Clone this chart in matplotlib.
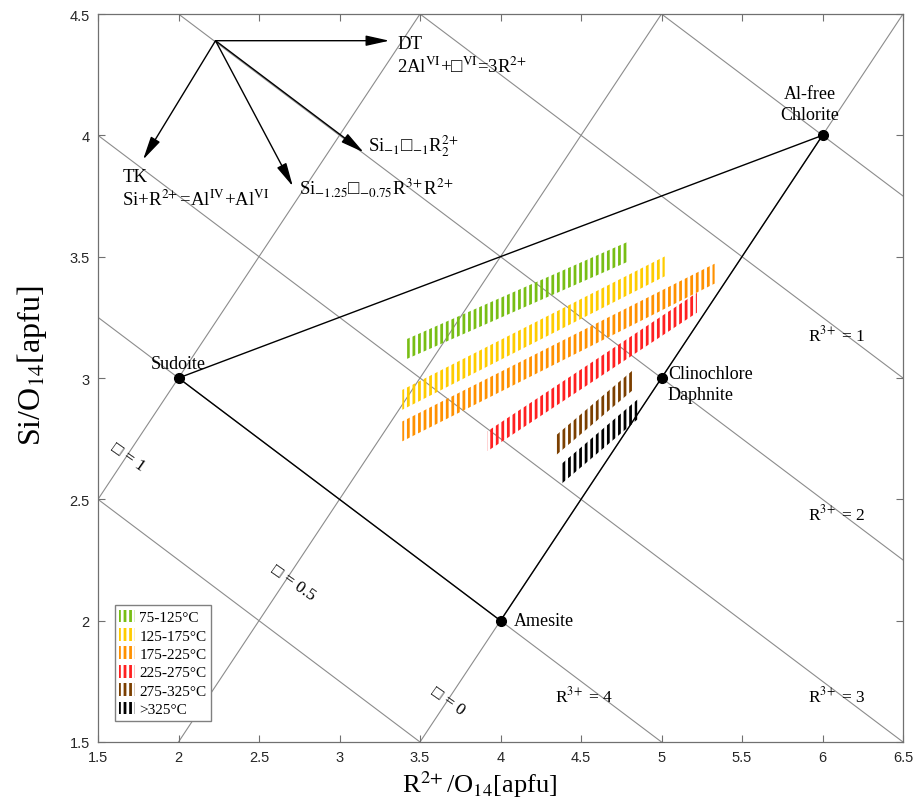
import matplotlib
matplotlib.use("Agg")
import matplotlib.pyplot as plt
from matplotlib.patches import Polygon, Patch

plt.rcParams['font.family'] = ['Liberation Serif', 'DejaVu Serif']
plt.rcParams['mathtext.fontset'] = 'stix'
plt.rcParams['hatch.linewidth'] = 2.0

# end-member compositions
minerals = ['Sudoite', 'Amesite', 'Clinochlore\nDaphnite', 'Al-free\nChlorite']
mineral_x = [2, 4, 5, 6]
mineral_y = [3, 2, 3, 4]
edges = [(0, 3), (0, 1), (1, 3)]

# isolines: vacancy (y = x - 2 + 3v) and R3+ (y = 7 - 0.5x - 0.75r)
vacancy_levels = [0, 0.5, 1]
r3_levels = [0, 1, 2, 3, 4, 5]

# temperature bands
temp_labels = ['75-125°C', '125-175°C', '175-225°C', '225-275°C', '275-325°C', '>325°C']
band_colors = ['#78be14', '#ffcc00', '#ff9100', '#ff2020', '#7b3f00', '#000000']
band_x0 = [3.42, 3.39, 3.39, 3.92, 4.34, 4.37]
band_y0 = [3.12, 2.91, 2.78, 2.74, 2.72, 2.60]
band_x1 = [4.79, 5.02, 5.33, 5.22, 4.82, 4.85]
band_y1 = [3.52, 3.46, 3.43, 3.31, 2.99, 2.87]
band_h = 0.082

# substitution vectors
arrow_origin = (2.23, 4.39)
arrow_end_x = [3.31, 1.78, 2.71, 3.15]
arrow_end_y = [4.39, 3.90, 3.79, 3.93]

ticks = [1.5, 2, 2.5, 3, 3.5, 4, 4.5, 5, 5.5, 6, 6.5]
tick_labels = ['1.5', '2', '2.5', '3', '3.5', '4', '4.5', '5', '5.5', '6', '6.5']
yticks = [1.5, 2, 2.5, 3, 3.5, 4, 4.5]
ytick_labels = ['1.5', '2', '2.5', '3', '3.5', '4', '4.5']

SQ = '\u25a1'
P2 = r'$^{2\!+}$'
P3 = r'$^{3\!+}$'

fig = plt.figure(figsize=(9.14, 8.03), dpi=100)
ax = fig.add_axes([98/914, 1 - 743/803, 805/914, 728/803])
ax.set_xlim(1.5, 6.5)
ax.set_ylim(1.5, 4.5)

grey = '#8c8c8c'
for v in vacancy_levels:
    ax.axline((0, -2 + 3*v), slope=1, color=grey, lw=0.8, zorder=1)
for r in r3_levels:
    ax.axline((0, 7 - 0.75*r), slope=-0.5, color=grey, lw=0.8, zorder=1)

for i, j in edges:
    ax.plot([mineral_x[i], mineral_x[j]], [mineral_y[i], mineral_y[j]], color='k', lw=1, zorder=2)
ax.plot(mineral_x, mineral_y, 'o', color='k', ms=7, zorder=5)

# bands
for x0, y0, x1, y1, c in zip(band_x0, band_y0, band_x1, band_y1, band_colors):
    poly = Polygon([(x0, y0 - band_h/2), (x1, y1 - band_h/2), (x1, y1 + band_h/2), (x0, y0 + band_h/2)],
                   closed=True, facecolor='none', edgecolor=c, hatch='|||', linewidth=0, zorder=3)
    ax.add_patch(poly)

# mineral labels
fs_min = 13
ax.text(2.0, 3.025, minerals[0], ha='center', va='bottom', fontsize=fs_min)
ax.text(4.08, 2.0, minerals[1], ha='left', va='center', fontsize=fs_min)
ax.text(5.04, 3.055, minerals[2], ha='left', va='top', fontsize=fs_min, linespacing=1.3)
ax.text(5.92, 4.05, minerals[3], ha='center', va='bottom', fontsize=fs_min,
        multialignment='center', linespacing=1.3)

# arrows
for ex, ey in zip(arrow_end_x, arrow_end_y):
    ax.annotate('', xy=(ex, ey), xytext=arrow_origin,
                arrowprops=dict(arrowstyle='-|>,head_length=0.9,head_width=0.2', color='k',
                                lw=1, shrinkA=0, shrinkB=0, mutation_scale=16), zorder=4)

fs_ann = 13.5
ax.text(3.357, 4.38, 'DT', ha='left', va='center', fontsize=fs_ann)
ax.text(3.357, 4.285, r'2Al$^{\rm VI}$+' + SQ + r'$^{\rm VI}$=3R' + P2, ha='left', va='center', fontsize=fs_ann)
ax.text(1.65, 3.83, 'TK', ha='left', va='center', fontsize=fs_ann)
ax.text(1.65, 3.74, 'Si+R' + P2 + r'=Al$^{\rm IV}$+Al$^{\rm VI}$', ha='left', va='center', fontsize=fs_ann)
ax.text(2.748, 3.79, r'Si$_{-1.25}$' + SQ + r'$_{-0.75}$R' + P3 + 'R' + P2, ha='left', va='center',
        fontsize=fs_ann)
ax.text(3.177, 3.96, r'Si$_{-1}$' + SQ + r'$_{-1}$R$_2^{2\!+}$', ha='left', va='center', fontsize=fs_ann)

# isoline labels
fs_iso = 12.5
ax.text(5.91, 3.18, 'R' + P3 + ' = 1', ha='left', va='center', fontsize=fs_iso)
ax.text(5.91, 2.44, 'R' + P3 + ' = 2', ha='left', va='center', fontsize=fs_iso)
ax.text(5.91, 1.69, 'R' + P3 + ' = 3', ha='left', va='center', fontsize=fs_iso)
ax.text(4.34, 1.69, 'R' + P3 + ' = 4', ha='left', va='center', fontsize=fs_iso)
ax.text(1.683, 2.678, SQ + ' = 1', ha='center', va='center', fontsize=fs_iso, rotation=-35,
        rotation_mode='anchor')
ax.text(2.711, 2.159, SQ + ' = 0.5', ha='center', va='center', fontsize=fs_iso, rotation=-35,
        rotation_mode='anchor')
ax.text(3.674, 1.669, SQ + ' = 0', ha='center', va='center', fontsize=fs_iso, rotation=-35,
        rotation_mode='anchor')

# axes styling
ax.set_xticks(ticks)
ax.set_xticklabels(tick_labels)
ax.set_yticks(yticks)
ax.set_yticklabels(ytick_labels)
ax.tick_params(direction='in', length=5, width=0.8, color='#707070', top=True, right=True,
               labelsize=10.5, labelcolor='#262626', pad=6)
for lab in ax.get_xticklabels() + ax.get_yticklabels():
    lab.set_family('Liberation Sans')
for s in ax.spines.values():
    s.set_color('#707070')
    s.set_linewidth(0.9)

fig.text(480/914, 1 - 785/803, r'R$^{2\!+}$/O$_{14}$[apfu]', ha='center', va='center', fontsize=19)
fig.text(32/914, 1 - 366/803, r'Si/O$_{14}$[apfu]', ha='center', va='center', fontsize=23, rotation=90)

handles = [Patch(facecolor='none', edgecolor=c, hatch='|||', linewidth=0) for c in band_colors]
leg = ax.legend(handles, temp_labels, loc='lower left', bbox_to_anchor=(0.021, 0.029), fontsize=11,
                handlelength=1.0, handleheight=0.9, handletextpad=0.3, labelspacing=0.25,
                borderpad=0.3, borderaxespad=0, frameon=True, fancybox=False, edgecolor='#808080')
leg.get_frame().set_linewidth(1)
leg.get_frame().set_alpha(1)

fig.savefig('out.png', dpi=100)
